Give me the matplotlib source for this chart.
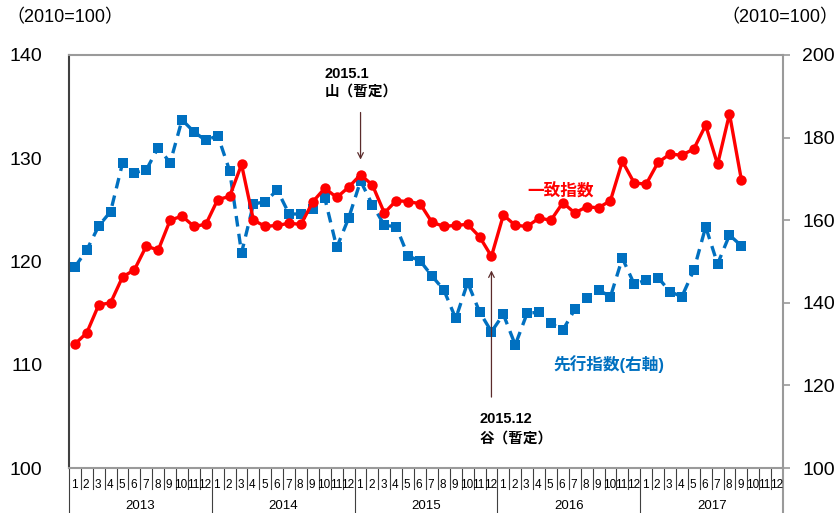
import matplotlib
matplotlib.use("Agg")
import matplotlib.pyplot as plt
import numpy as np

plt.rcParams["font.family"] = ["Liberation Sans", "Noto Sans CJK JP", "DejaVu Sans"]

# --- data: 2013.1 .. 2017.9 (monthly) ---
years = [2013, 2014, 2015, 2016, 2017]
month_labels = [str(m) for m in range(1, 13)]

coincident = [112.0, 113.1, 115.8, 116.0, 118.5, 119.2, 121.5, 121.1, 124.0, 124.4, 123.4, 123.6,
              126.0, 126.3, 129.4, 124.0, 123.4, 123.5, 123.7, 123.6, 125.8, 127.1, 126.2, 127.2,
              128.4, 127.4, 124.7, 125.9, 125.8, 125.6, 123.8, 123.4, 123.5, 123.6, 122.4, 120.5,
              124.5, 123.5, 123.4, 124.2, 124.0, 125.7, 124.7, 125.3, 125.2, 125.9, 129.7, 127.6,
              127.5, 129.6, 130.4, 130.3, 130.9, 133.2, 129.4, 134.3, 127.9]

leading = [148.7, 152.8, 158.6, 162.1, 173.8, 171.5, 172.2, 177.6, 173.9, 184.3, 181.4, 179.3,
           180.5, 172.0, 152.1, 163.9, 164.5, 167.3, 161.5, 161.5, 162.6, 165.3, 153.4, 160.5,
           169.5, 163.7, 158.8, 158.4, 151.3, 150.2, 146.5, 143.1, 136.2, 144.9, 137.8, 133.0,
           137.2, 129.8, 137.5, 137.7, 135.0, 133.4, 138.4, 141.2, 143.1, 141.5, 150.8, 144.5,
           145.5, 146.1, 142.7, 141.5, 147.9, 158.4, 149.4, 156.4, 153.8]

peak_idx = 24    # 2015.1
trough_idx = 35  # 2015.12

red = "#FF0000"
blue = "#0070C0"
grey = "#9a9a9a"
arrow_col = "#5b2b2b"

n_months = len(years) * 12
x = np.arange(len(coincident)) + 0.5

fig = plt.figure(figsize=(8.39, 5.13), dpi=100)
ax = fig.add_axes([0.0822, 0.0877, 0.8511, 0.8051])
ax2 = ax.twinx()
ax.set_zorder(ax2.get_zorder() + 1)
ax.patch.set_visible(False)

ax2.plot(x, leading, color=blue, lw=2.4, linestyle=(0, (3.2, 2.2)),
         marker="s", markersize=6.5, markeredgewidth=0)
ax.plot(x, coincident, color=red, lw=2.4, marker="o", markersize=7.5, markeredgewidth=0)

ax.set_xlim(0, n_months)
ax.set_ylim(100, 140)
ax2.set_ylim(100, 200)
ax.set_xticks([])
ax.set_yticks([100, 110, 120, 130, 140])
ax2.set_yticks([100, 120, 140, 160, 180, 200])
ax.tick_params(axis="y", length=0, pad=19, labelsize=14)
ax2.tick_params(axis="y", length=5, width=1.2, color=grey, pad=9, labelsize=14)

for s in ax2.spines.values():
    s.set_visible(False)
ax.spines["left"].set_color("#404040")
ax.spines["left"].set_linewidth(1.5)
for side in ["top", "right", "bottom"]:
    ax.spines[side].set_color(grey)
    ax.spines[side].set_linewidth(1.5)

# month / year table below the axis
tr = ax.get_xaxis_transform()
for b in range(n_months):
    y_end = -0.11 if b % 12 == 0 else -0.05
    ax.plot([b, b], [0, y_end], transform=tr, clip_on=False, color="#404040", lw=0.8)
ax.plot([n_months, n_months], [0, -0.11], transform=tr, clip_on=False, color=grey, lw=1.5)
for i in range(n_months):
    ax.text(i + 0.42, -0.04, month_labels[i % 12], transform=tr, ha="center", va="center",
            fontsize=8.5)
for k, yr in enumerate(years):
    ax.text(k * 12 + 6, -0.093, str(yr), transform=tr, ha="center", va="center", fontsize=9.5)

# axis unit labels
fig.text(0.008, 0.965, "（2010=100）", ha="left", va="center", fontsize=13)
fig.text(0.999, 0.965, "（2010=100）", ha="right", va="center", fontsize=13)

# series labels
ax.text(38.5, 126.8, "一致指数", color=red, fontsize=12, fontweight="bold", va="center")
ax.text(40.7, 110.1, "先行指数(右軸)", color=blue, fontsize=12, fontweight="bold", va="center")

# peak / trough annotations
ax.annotate("", xy=(x[peak_idx], 129.6), xytext=(x[peak_idx], 134.7),
            arrowprops=dict(arrowstyle="->", color=arrow_col, lw=0.9))
ax.text(21.5, 138.16, "2015.1", fontsize=10.5, fontweight="bold", va="center")
ax.text(21.5, 136.45, "山（暫定）", fontsize=10.5, fontweight="bold", va="center")

ax.annotate("", xy=(x[trough_idx], 119.4), xytext=(x[trough_idx], 106.6),
            arrowprops=dict(arrowstyle="->", color=arrow_col, lw=0.9))
ax.text(34.5, 104.76, "2015.12", fontsize=10.5, fontweight="bold", va="center")
ax.text(34.5, 102.88, "谷（暫定）", fontsize=10.5, fontweight="bold", va="center")

fig.savefig("out.png", dpi=100)
